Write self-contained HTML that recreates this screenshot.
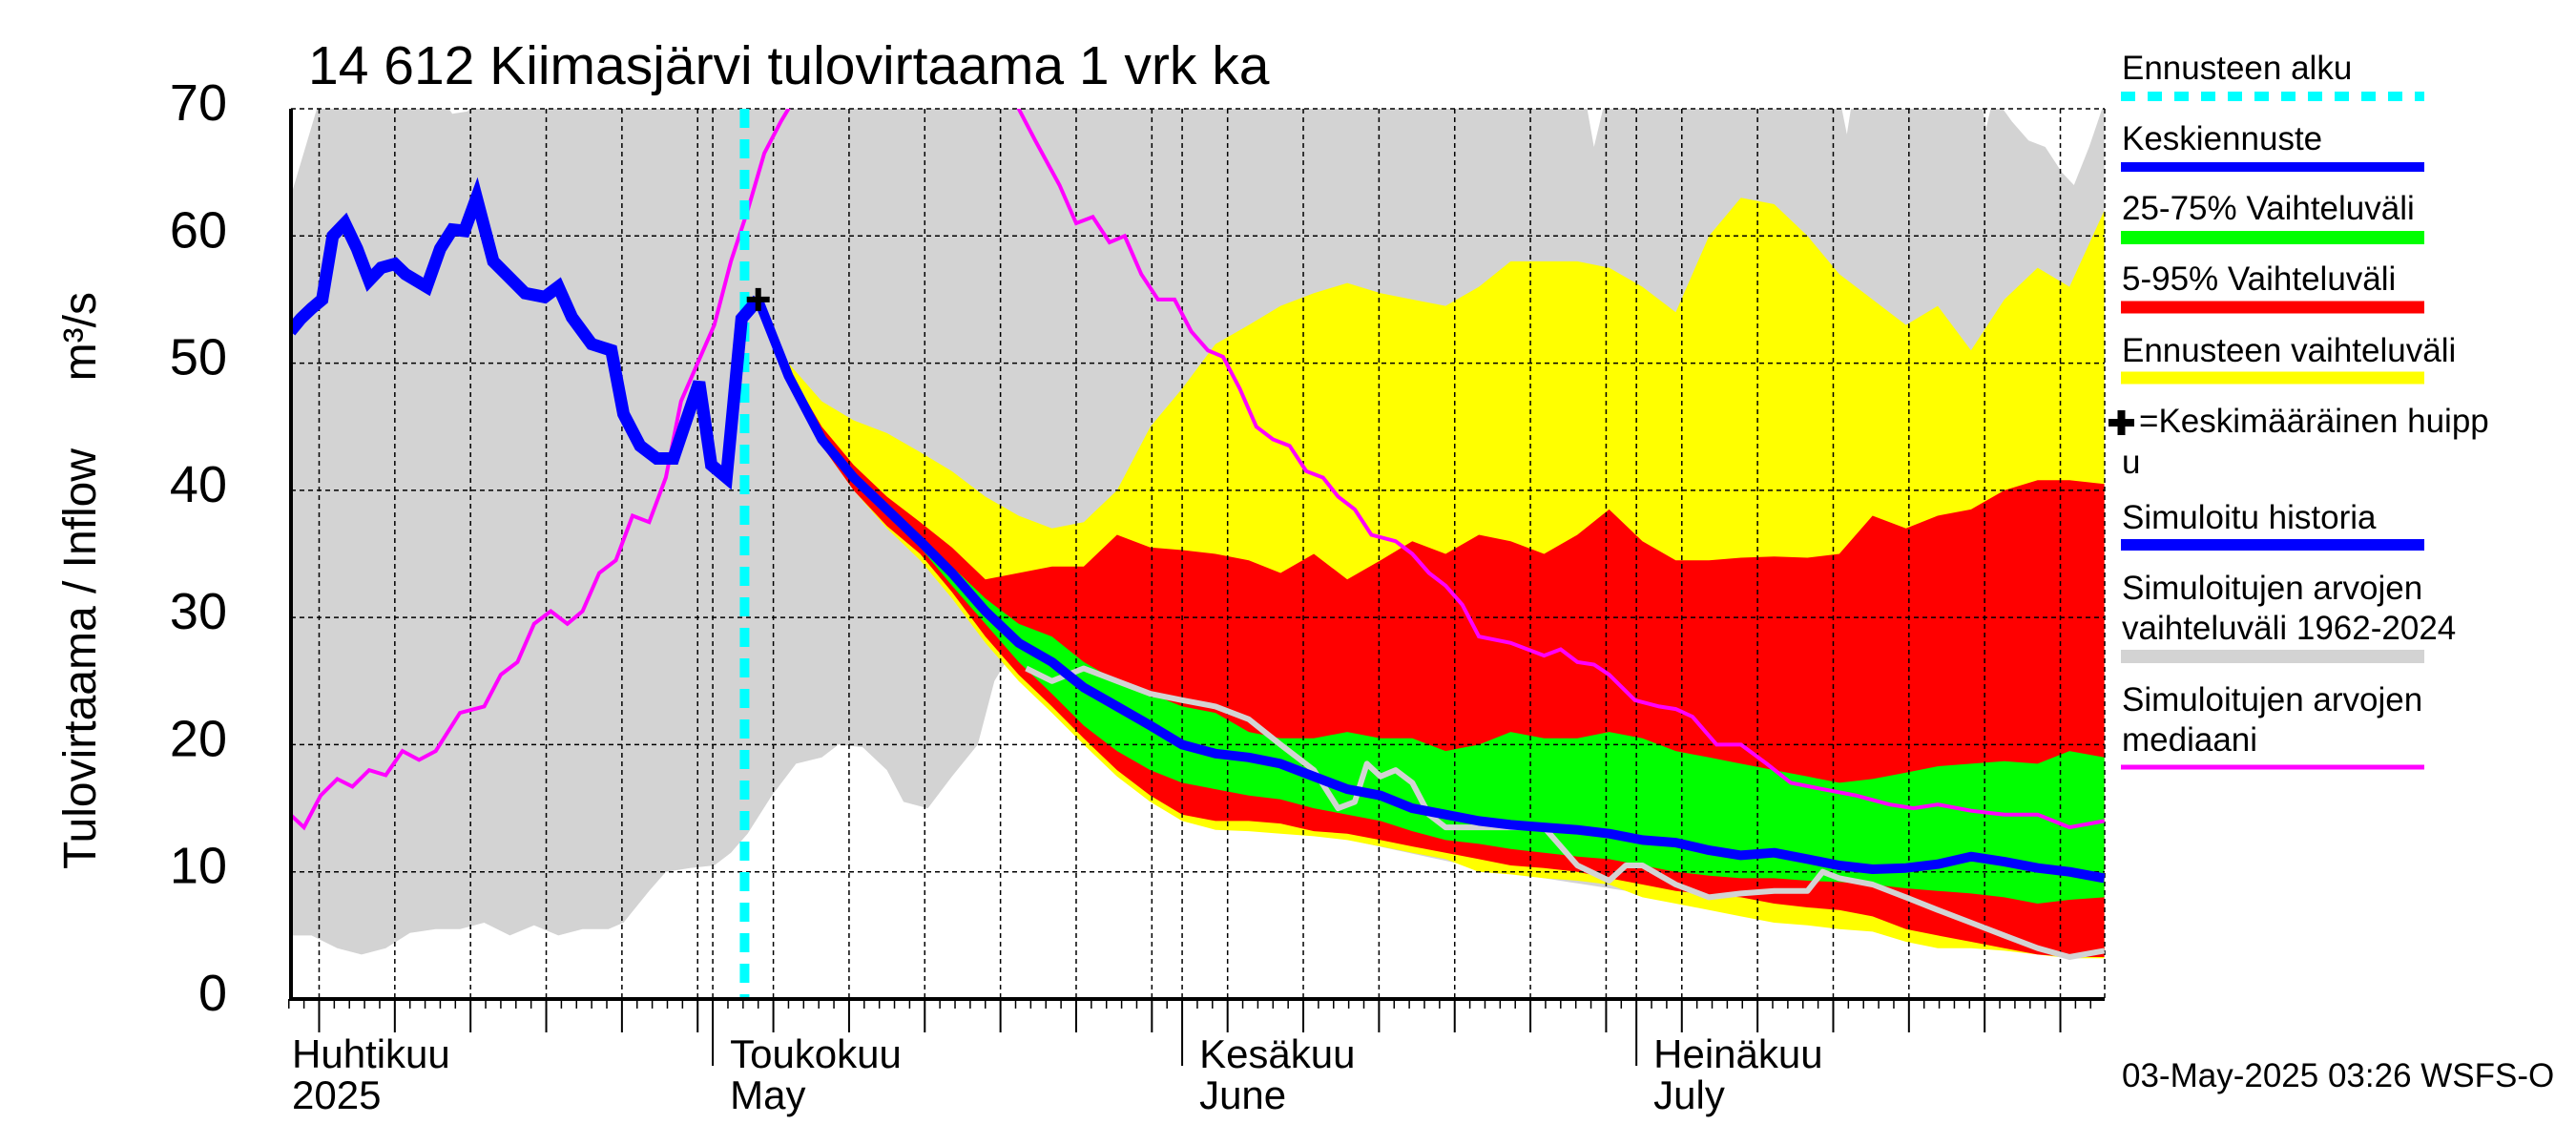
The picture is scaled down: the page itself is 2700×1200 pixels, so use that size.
<!DOCTYPE html>
<html><head><meta charset="utf-8"><style>
html,body{margin:0;padding:0;background:#fff;}
svg{display:block;font-family:"Liberation Sans",sans-serif;}
</style></head><body>
<svg id="chart" width="2700" height="1200" viewBox="0 0 2700 1200" xmlns="http://www.w3.org/2000/svg">
<defs><clipPath id="pc"><rect x="305" y="114" width="1901" height="933"/></clipPath></defs>
<text x="323" y="88" font-size="57">14 612 Kiimasjärvi tulovirtaama 1 vrk ka</text>
<text transform="translate(100,911) rotate(-90)" text-anchor="start" font-size="48">Tulovirtaama / Inflow</text>
<text transform="translate(100,306) rotate(-90)" text-anchor="end" font-size="48">m³/s</text>
<g id="bands" clip-path="url(#pc)"></g>
<g id="grid"></g>
<g id="lines" clip-path="url(#pc)"></g>
<g id="axes"></g>
<g id="legend" font-size="35">
<text x="2224" y="83">Ennusteen alku</text>
<line x1="2223" y1="101" x2="2541" y2="101" stroke="#00ffff" stroke-width="10" stroke-dasharray="15,13"/>
<text x="2224" y="157">Keskiennuste</text>
<line x1="2223" y1="175" x2="2541" y2="175" stroke="#0000ff" stroke-width="10"/>
<text x="2224" y="230">25-75% Vaihteluväli</text>
<line x1="2223" y1="249" x2="2541" y2="249" stroke="#00ff00" stroke-width="14"/>
<text x="2224" y="304">5-95% Vaihteluväli</text>
<line x1="2223" y1="322" x2="2541" y2="322" stroke="#ff0000" stroke-width="13"/>
<text x="2224" y="379">Ennusteen vaihteluväli</text>
<line x1="2223" y1="396" x2="2541" y2="396" stroke="#ffff00" stroke-width="13"/>
<path d="M2210,443H2237M2223.5,430V456" stroke="#000" stroke-width="8"/>
<text x="2242" y="453">=Keskimääräinen huipp</text>
<text x="2224" y="496">u</text>
<text x="2224" y="554">Simuloitu historia</text>
<line x1="2223" y1="571" x2="2541" y2="571" stroke="#0000ff" stroke-width="12"/>
<text x="2224" y="628">Simuloitujen arvojen</text>
<text x="2224" y="670">vaihteluväli 1962-2024</text>
<line x1="2223" y1="688" x2="2541" y2="688" stroke="#d3d3d3" stroke-width="14"/>
<text x="2224" y="745">Simuloitujen arvojen</text>
<text x="2224" y="787">mediaani</text>
<line x1="2223" y1="804" x2="2541" y2="804" stroke="#ff00ff" stroke-width="5"/>
<text x="2224" y="1139" font-size="35">03-May-2025 03:26 WSFS-O</text>
</g>
</svg>
<script>
// day index: 0 = 1 April 2025
const fcDays=[33,35,37.2,39.3,41.5,43.7,45.8,48,50.2,52.4,54.5,56.7,58.9,61,63.2,65.4,67.5,69.7,71.9,74.1,76.2,78.4,80.6,82.7,84.9,87.1,89.2,91.4,93.6,95.8,97.9,100.1,102.3,104.4,106.6,108.8,110.9,113.1,115.3,117.5,119.6,121.9];
const meanFc=[55,49,44,41,38.5,36,33.5,30.5,28,26.5,24.5,23,21.5,20,19.3,19,18.5,17.5,16.5,16,15,14.5,14,13.7,13.5,13.3,13,12.5,12.3,11.7,11.3,11.5,11,10.5,10.2,10.3,10.6,11.2,10.8,10.3,10,9.5];
const yelHigh=[55,50,47,45.5,44.5,43,41.5,39.5,38,37,37.5,40,45,48,51.5,53,54.5,55.5,56.3,55.5,55,54.5,56,58,58,58,57.5,56,54,60,63,62.5,60,57,55,53,54.5,51,55,57.5,56,62];
const yelLow=[55,48.5,43.5,40,37,34.5,31.5,28,25,22.5,20,17.5,15.5,14,13.3,13.2,13,12.8,12.5,12,11.5,11,10,9.8,9.5,9.3,9,8,7.5,7,6.5,6,5.8,5.5,5.3,4.5,4,4,3.8,3.5,3.2,3.2];
const redHigh=[55,49.5,45,42,39.5,37.5,35.5,33,33.5,34,34,36.5,35.5,35.3,35,34.5,33.5,35,33,34.5,36,35,36.5,36,35,36.5,38.5,36,34.5,34.5,34.7,34.8,34.7,35,38,37,38,38.5,40,40.8,40.8,40.5];
const redLow=[55,48.5,43.5,40,37.2,35,32,28.5,25.5,23,20.5,18,16,14.5,14,14,13.8,13.2,13,12.5,12,11.5,11,10.5,10.3,10,9.5,9,8.5,8.2,8,7.5,7.2,7,6.5,5.5,5,4.5,4,3.5,3.3,3.3];
const greenHigh=[55,49,44.5,41.5,39,36.5,34,31.5,29.5,28.5,26.5,25,24,23,22.5,21,20.5,20.5,21,20.5,20.5,19.5,20,21,20.5,20.5,21,20.5,19.5,19,18.5,18,17.5,17,17.3,17.8,18.3,18.5,18.7,18.5,19.5,19];
const greenLow=[55,48.7,44,40.5,38,35.5,32.5,29.5,26.5,24,21.5,19.5,18,17,16.5,16,15.7,15,14.5,14,13.2,12.5,12.2,11.8,11.5,11.2,11,10.5,10,9.7,9.5,9.5,9.3,9.2,9,8.7,8.5,8.3,8,7.5,7.8,8];
const histDays=[2.1,2.8,3.5,4.2,4.9,5.7,6.5,7.3,8.1,9.0,9.7,11.1,12.0,12.8,13.6,14.4,15.5,16.6,17.6,18.9,19.8,20.7,22.0,23.3,24.1,25.2,26.3,27.4,29.1,29.9,30.9,31.9,33.0];
const histVals=[52.5,53.5,54.3,55,60,61,59,56.5,57.5,57.8,57,56,59,60.5,60.4,63,58,56.7,55.5,55.2,56,53.6,51.5,51,46,43.5,42.5,42.5,48.5,42,41,53.5,55];
const medDays=[2.1,3.0,4.1,5.2,6.2,7.3,8.4,9.5,10.6,11.7,13.3,14.9,16.0,17.1,18.2,19.3,20.4,21.4,22.5,23.6,24.7,25.8,26.9,27.9,29.0,30.1,31.2,32.3,33.4,34.5,35.5,39.3,43.7,48.0,50.2,51.3,52.9,54.0,55.1,56.2,57.2,58.3,59.4,60.5,61.6,62.7,63.7,64.8,65.9,67.0,68.1,69.2,70.3,71.3,72.4,73.5,75.1,76.2,77.3,78.4,79.5,80.6,82.7,84.9,86.0,87.1,88.2,89.2,90.9,92.5,93.6,94.7,96.3,97.9,99.6,101.2,103.3,105.5,107.7,109.3,110.9,113.1,115.3,117.5,119.6,121.9];
const medVals=[14.5,13.5,16,17.3,16.7,18,17.6,19.5,18.8,19.5,22.5,23,25.5,26.5,29.5,30.5,29.5,30.5,33.5,34.5,38,37.5,41,47,50,53,58,62,66.5,69,71,78,80,74,70,67.5,64,61,61.5,59.5,60,57,55,55,52.5,51,50.5,48,45,44,43.5,41.5,41,39.5,38.5,36.5,36,35,33.5,32.5,31,28.5,28,27,27.5,26.5,26.3,25.5,23.5,23,22.8,22.2,20,20,18.5,17,16.5,16,15.3,15,15.3,14.8,14.5,14.5,13.5,14];
const lgDays=[50.7,52.4,54.5,56.7,58.9,61.0,63.2,65.4,67.5,69.7,71.3,72.4,73.2,74.1,75.1,76.2,77.3,78.4,80.6,82.7,84.9,87.1,89.2,90.3,91.4,93.6,95.8,97.9,100.1,102.3,103.3,104.4,106.6,108.8,110.9,113.1,115.3,117.5,119.6,121.9];
const lgVals=[26,25,26,25,24,23.5,23,22,20,18,15,15.5,18.5,17.5,18,17,14.5,13.5,13.5,13.5,13.5,10.5,9.3,10.5,10.5,9,8,8.3,8.5,8.5,10,9.5,9,8,7,6,5,4,3.3,3.8];
const grayHiDays=[2.1,4.1,12,12.8,13.8,14.9,87.6,88.2,89,104.4,104.9,105.3,113.7,114.1,114.6,115.8,116.9,118,119.1,119.9,120.9,121.9];
const grayHiVals=[63,71,71,69.6,69.8,71,71,67,71,71,68,71,71,68.5,71,69,67.5,67,65,64,67,70.5];
const grayLoDays=[2.1,3.5,5.2,6.8,8.4,10.0,11.7,13.3,14.9,16.6,18.2,19.8,21.4,23.1,24.1,25.8,26.9,28.5,30.1,31.2,32.3,33.9,35.5,37.2,38.3,39.9,41.5,42.6,44.2,45.8,47.5,48.6,49.6,50.2,52.4,54.5,56.7,58.9,61.0,63.2,69.7,80.6,91.4,102.3,113.1,121.9];
const grayLoVals=[5,5,4,3.5,4,5.2,5.5,5.5,6,5,5.8,5,5.5,5.5,6,8.5,10,10.3,10.5,11.5,13,16,18.5,19,20,19.8,18,15.5,15,17.5,20,25,27,25.3,22.8,20.3,17.8,15.8,14.3,13.6,13.1,10.3,8.3,6.1,4.3,3.5];
const yTicks=[0,10,20,30,40,50,60,70];
const forecastStart=32.1, peakDay=33, peakVal=55;
const monthStarts=[30,61,91];
const monthLabels=[["Huhtikuu","2025",305],["Toukokuu","May",30],["Kesäkuu","June",61],["Heinäkuu","July",91]];

const NS="http://www.w3.org/2000/svg";
const X0=305,X1=2206,Y0=1047,YT=114;
function xs(d){return 271+d*15.87;}
function ys(v){return Y0-v*(Y0-YT)/70;}
function mk(tag,attrs,parent){const e=document.createElementNS(NS,tag);for(const k in attrs)e.setAttribute(k,attrs[k]);parent.appendChild(e);return e;}
function pts(days,vals){return days.map((d,i)=>xs(d).toFixed(1)+","+ys(vals[i]).toFixed(1));}
function band(days,hi,lo,hd,ld){const a=pts(hd||days,hi),b=pts(ld||days,lo).reverse();return a.concat(b).join(" ");}
const bands=document.getElementById('bands'),grid=document.getElementById('grid'),lines=document.getElementById('lines'),axes=document.getElementById('axes');

let g=mk('polygon',{points:band(null,grayHiVals,grayLoVals,grayHiDays,grayLoDays),fill:'#d3d3d3'},bands);


let yb=mk('polygon',{points:band(fcDays,yelHigh,yelLow),fill:'#ffff00'},bands);


let rb=mk('polygon',{points:band(fcDays,redHigh,redLow),fill:'#ff0000'},bands);


let gb=mk('polygon',{points:band(fcDays,greenHigh,greenLow),fill:'#00ff00'},bands);



for(const t of yTicks){ if(t===0)continue;
  const l=mk('line',{x1:X0,x2:X1,y1:ys(t),y2:ys(t),stroke:'#000','stroke-width':1.5,'stroke-dasharray':'5,4'},grid);
  
  
}
const vdays=[];for(let d=4;d<=121;d+=5)vdays.push(d);
for(const d of vdays.concat(monthStarts)){
  const l=mk('line',{x1:xs(d),x2:xs(d),y1:YT,y2:Y0,stroke:'#000','stroke-width':1.5,'stroke-dasharray':'5,4'},grid);
  
  
}
let rl=mk('line',{x1:X1,x2:X1,y1:YT,y2:Y0,stroke:'#000','stroke-width':1.5,'stroke-dasharray':'5,4'},grid);



let lg=mk('polyline',{points:pts(lgDays,lgVals).join(" "),fill:'none',stroke:'#d3d3d3','stroke-width':6,'stroke-linejoin':'round'},lines);


let md=mk('polyline',{points:pts(medDays,medVals).join(" "),fill:'none',stroke:'#ff00ff','stroke-width':4},lines);


let cy=mk('line',{x1:xs(forecastStart),x2:xs(forecastStart),y1:YT,y2:Y0,stroke:'#00ffff','stroke-width':10,'stroke-dasharray':'20,12'},lines);


let hs=mk('polyline',{points:pts(histDays,histVals).join(" "),fill:'none',stroke:'#0000ff','stroke-width':13,'stroke-linejoin':'miter'},lines);


let mf=mk('polyline',{points:pts(fcDays,meanFc).join(" "),fill:'none',stroke:'#0000ff','stroke-width':10,'stroke-linejoin':'round'},lines);


const px=xs(peakDay),py=ys(peakVal);
let pk=mk('path',{d:`M${px-12},${py}H${px+12}M${px},${py-12}V${py+12}`,stroke:'#000','stroke-width':6},lines);



let ax=mk('path',{d:`M${X0},${YT}V${Y0}H${X1}`,fill:'none',stroke:'#000','stroke-width':4},axes);


for(const t of yTicks){
  const tx=mk('text',{x:238,y:ys(t)+12,'text-anchor':'end','font-size':54},axes);
  tx.textContent=t;
  
  
}
for(let d=2;d<=121;d++){
  const isM=monthStarts.includes(d),is5=(d-4)%5===0&&d>=4;
  const len=isM?70:(is5?35:10);
  const l=mk('line',{x1:xs(d),x2:xs(d),y1:Y0,y2:Y0+len,stroke:'#000','stroke-width':isM||is5?2:1.5},axes);
  
  
}
for(const m of monthLabels){
  const x=m[0]==="Huhtikuu"?306:xs(m[2])+18;
  const t1=mk('text',{x:x,y:1119,'font-size':42},axes);t1.textContent=m[0];
  
  
  const t2=mk('text',{x:x,y:1162,'font-size':42},axes);t2.textContent=m[1];
  
  
}
</script>
</body></html>
